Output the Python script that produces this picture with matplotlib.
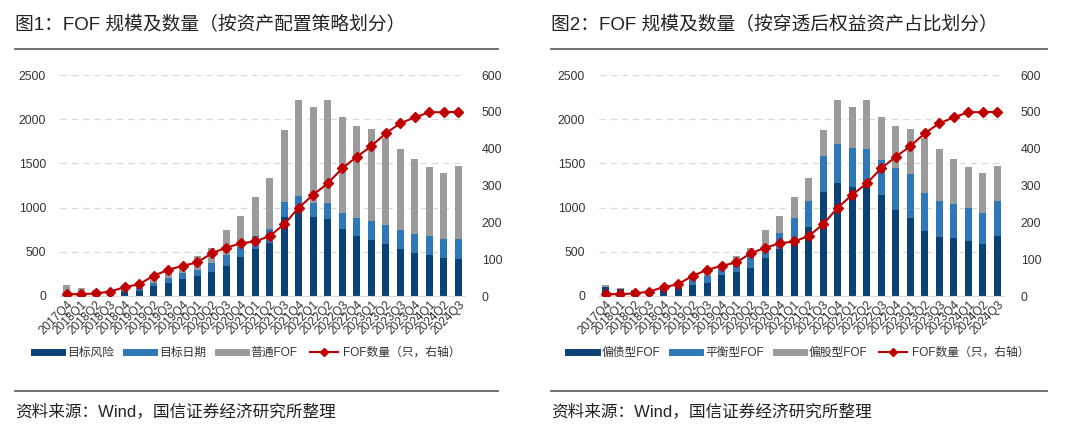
import matplotlib
matplotlib.use('Agg')

import numpy as np
import matplotlib.pyplot as plt
from matplotlib.lines import Line2D

plt.rcParams['font.family'] = ['Liberation Sans', 'Noto Sans CJK SC', 'DejaVu Sans']

quarters = ['2017Q4',
            '2018Q1', '2018Q2', '2018Q3', '2018Q4',
            '2019Q1', '2019Q2', '2019Q3', '2019Q4',
            '2020Q1', '2020Q2', '2020Q3', '2020Q4',
            '2021Q1', '2021Q2', '2021Q3', '2021Q4',
            '2022Q1', '2022Q2', '2022Q3', '2022Q4',
            '2023Q1', '2023Q2', '2023Q3', '2023Q4',
            '2024Q1', '2024Q2', '2024Q3']

# chart 1: by asset allocation strategy
target_risk = [0, 0, 0, 15, 50, 60, 113, 143, 196, 226, 272, 339, 445, 535, 603,
               897, 973, 890, 867, 762, 683, 634, 588, 532, 490, 464, 434, 415]
target_date = [0, 0, 5, 10, 25, 30, 38, 57, 60, 68, 105, 121, 113, 148, 151,
               163, 162, 158, 189, 177, 196, 218, 211, 215, 211, 215, 207, 226]
normal_fof = [125, 90, 65, 35, 20, 25, 68, 94, 94, 158, 170, 287, 351, 437, 585,
              818, 1082, 1090, 1161, 1090, 1044, 1037, 985, 912, 849, 784, 747, 826]

# chart 2: by equity exposure
bond_fof = [100, 78, 55, 40, 75, 90, 124, 150, 236, 269, 322, 430, 528, 610, 779,
            1179, 1276, 1228, 1246, 1142, 977, 887, 730, 666, 659, 625, 591, 674]
balanced_fof = [5, 4, 8, 10, 12, 15, 67, 75, 75, 98, 138, 105, 187, 270, 291,
                404, 438, 441, 420, 393, 475, 490, 434, 412, 382, 367, 345, 396]
equity_fof = [20, 8, 7, 10, 8, 10, 28, 69, 39, 85, 87, 212, 194, 240, 269,
              295, 503, 469, 551, 494, 471, 512, 620, 581, 509, 471, 452, 397]

fof_count = [5, 5, 7, 12, 24, 32, 55, 71, 82, 91, 116, 131, 143, 148, 163,
             195, 240, 275, 306, 347, 378, 407, 442, 469, 485, 499, 499, 500]

titles = ['图1：FOF 规模及数量（按资产配置策略划分）',
          '图2：FOF 规模及数量（按穿透后权益资产占比划分）']
legend1 = ['目标风险', '目标日期', '普通FOF', 'FOF数量（只，右轴）']
legend2 = ['偏债型FOF', '平衡型FOF', '偏股型FOF', 'FOF数量（只，右轴）']
source = '资料来源：Wind，国信证券经济研究所整理'

dark = '#0b4275'
mid = '#2e78b8'
grey = '#9b9b9b'
red = '#c00000'
txt = '#333333'

fig = plt.figure(figsize=(10.8, 4.32), dpi=100)


def draw_panel(left, series, labels, title, rule_x0, rule_x1, leg_cx):
    W, H = 1080, 432
    ax = fig.add_axes([left / W, 1 - 296 / H, 405 / W, (296 - 75) / H])
    x = np.arange(len(quarters))
    bottom = np.zeros(len(quarters))
    for vals, col in zip(series, [dark, mid, grey]):
        ax.bar(x, vals, width=0.48, bottom=bottom, color=col, zorder=2)
        bottom += np.array(vals)
    ax.set_ylim(0, 2500)
    ax.set_yticks(range(0, 2501, 500))
    ax.set_xlim(-0.45, len(quarters) - 0.55)
    ax.grid(axis='y', color='#d9d9d9', linestyle=(0, (5, 4)), lw=0.9, zorder=0)
    for s in ['top', 'right', 'left']:
        ax.spines[s].set_visible(False)
    ax.spines['bottom'].set_color('#d9d9d9')
    ax.set_xticks(x)
    ax.set_xticklabels(quarters, rotation=45, ha='right', rotation_mode='anchor',
                       fontsize=8.6, color=txt)
    ax.tick_params(axis='x', length=0, pad=2)
    ax.tick_params(axis='y', length=0, pad=10, labelsize=8.8, labelcolor=txt)

    ax2 = ax.twinx()
    ax2.plot(x, fof_count, color=red, lw=1.5, marker='D', markersize=5, zorder=3)
    ax2.set_ylim(0, 600)
    ax2.set_yticks(range(0, 601, 100))
    for s in ax2.spines.values():
        s.set_visible(False)
    ax2.tick_params(axis='y', length=0, pad=12, labelsize=8.8, labelcolor=txt)

    handles = [Line2D([], [], color=dark, lw=5),
               Line2D([], [], color=mid, lw=5),
               Line2D([], [], color=grey, lw=5),
               Line2D([], [], color=red, lw=1.5, marker='D', markersize=4)]
    fig.legend(handles, labels, loc='center', bbox_to_anchor=(leg_cx / W, 1 - 353 / H),
               ncol=4, frameon=False, fontsize=8.5, handlelength=2.4,
               columnspacing=1.0, handletextpad=0.4, labelcolor=txt)

    fig.text(rule_x0 / W, 1 - 25 / H, title, fontsize=13.5, color='#222222',
             va='center', ha='left')
    fig.add_artist(Line2D([rule_x0 / W, rule_x1 / W], [1 - 49 / H] * 2,
                          color='#666666', lw=1.3))
    fig.add_artist(Line2D([rule_x0 / W, rule_x1 / W], [1 - 391 / H] * 2,
                          color='#666666', lw=1.3))
    fig.text(rule_x0 / W, 1 - 411 / H, source, fontsize=12, color='#222222',
             va='center', ha='left')


draw_panel(60, [target_risk, target_date, normal_fof], legend1, titles[0], 15, 498, 247)
draw_panel(599, [bond_fof, balanced_fof, equity_fof], legend2, titles[1], 551, 1047, 799)

fig.savefig('out.png', dpi=100)
